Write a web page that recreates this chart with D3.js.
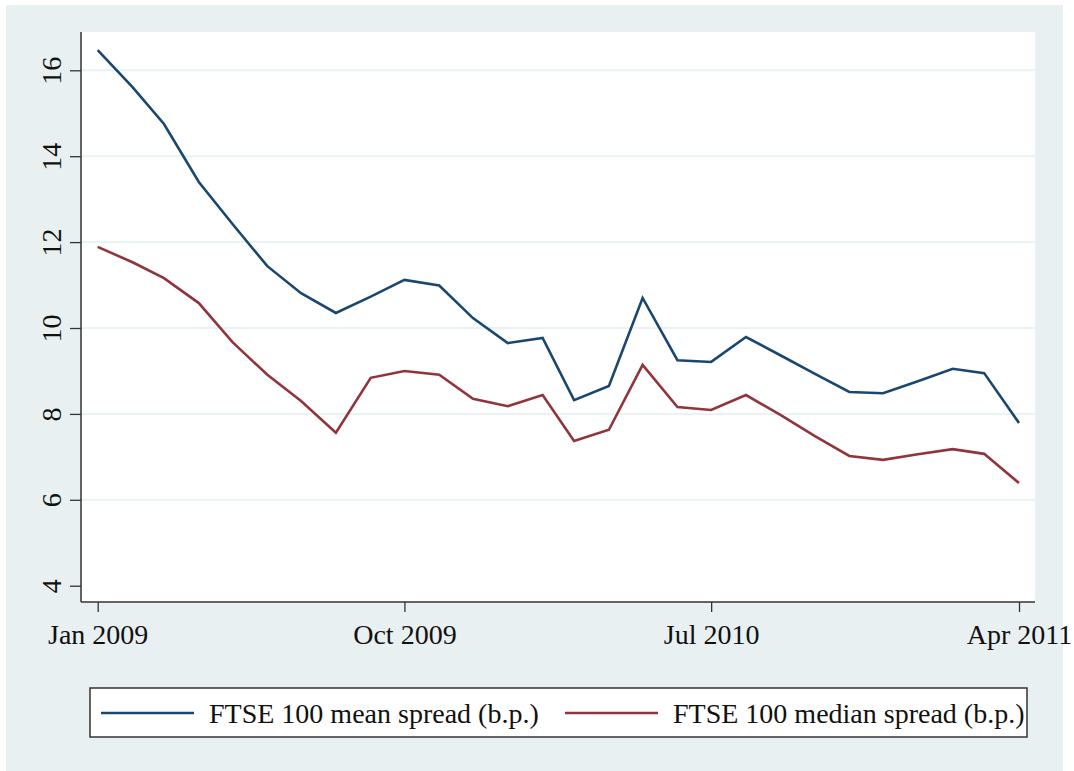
<!DOCTYPE html>
<html>
<head>
<meta charset="utf-8">
<script src="https://cdn.jsdelivr.net/npm/d3@7"></script>
<style>
  html, body { margin: 0; padding: 0; background: #ffffff; }
  svg { display: block; }
  text { font-family: "Liberation Serif", "Times New Roman", serif; fill: #111; }
</style>
</head>
<body>
<svg id="chart" width="1074" height="771"></svg>
<script>
// Monthly observations, Jan 2009 .. Apr 2011
const months = d3.range(0, 28).map(i => new Date(2009, i, 1));
const meanSpread = [16.47, 15.61, 14.75, 13.40, 12.42, 11.44, 10.81, 10.35, 10.73, 11.12,
                    10.99, 10.23, 9.65, 9.77, 8.32, 8.65, 10.70, 9.25, 9.21, 9.79,
                    9.36, 8.94, 8.51, 8.48, 8.76, 9.05, 8.95, 7.79];
const medianSpread = [11.89, 11.53, 11.16, 10.58, 9.67, 8.91, 8.30, 7.56, 8.84, 9.00,
                      8.91, 8.35, 8.18, 8.44, 7.37, 7.63, 9.14, 8.16, 8.09, 8.44,
                      7.97, 7.49, 7.02, 6.93, 7.06, 7.18, 7.07, 6.39];
const yTicks = [4, 6, 8, 10, 12, 14, 16];
const xTicks = [new Date(2009, 0, 1), new Date(2009, 9, 1), new Date(2010, 6, 1), new Date(2011, 3, 1)];
const seriesNames = ["FTSE 100 mean spread (b.p.)", "FTSE 100 median spread (b.p.)"];
const seriesColors = ["#1a476f", "#90353b"];

const svg = d3.select("#chart");
const fmt = d3.timeFormat("%b %Y");

// background
svg.append("rect").attr("x", 6).attr("y", 5).attr("width", 1057).attr("height", 766).attr("fill", "#e9f0f2");

const plot = {left: 81, right: 1035, top: 32, bottom: 602};
svg.append("rect").attr("x", plot.left).attr("y", plot.top)
  .attr("width", plot.right - plot.left).attr("height", plot.bottom - plot.top).attr("fill", "#ffffff");

const x = d3.scaleTime().domain([months[0], months[27]]).range([97.7, 1019]);
const y = d3.scaleLinear().domain([4, 16]).range([585.7, 70.3]);

// grid
svg.append("g").selectAll("line").data(yTicks.filter(d => d > 4)).join("line")
  .attr("x1", plot.left).attr("x2", plot.right)
  .attr("y1", d => y(d)).attr("y2", d => y(d))
  .attr("stroke", "#eaf2f3").attr("stroke-width", 2);

// y axis
const yAxis = svg.append("g").attr("transform", `translate(${plot.left},0)`)
  .call(d3.axisLeft(y).tickValues(yTicks).tickSize(11).tickFormat(d3.format("d")));
yAxis.select(".domain").remove();
yAxis.selectAll(".tick line").attr("stroke", "#333").attr("stroke-width", 1.3);
yAxis.selectAll(".tick text").remove();
yAxis.selectAll(".tick").append("text")
  .attr("transform", "translate(-20,0) rotate(-90)")
  .attr("text-anchor", "middle")
  .attr("y", 0)
  .style("font-size", "28px")
  .style("font-family", "'Liberation Serif', serif")
  .attr("fill", "#111")
  .text(d => d);
svg.append("line").attr("x1", plot.left).attr("x2", plot.left)
  .attr("y1", plot.top).attr("y2", plot.bottom).attr("stroke", "#333").attr("stroke-width", 1.5);

// x axis
const xAxis = svg.append("g").attr("transform", `translate(0,${plot.bottom})`)
  .call(d3.axisBottom(x).tickValues(xTicks).tickSize(10).tickPadding(12).tickFormat(fmt));
xAxis.select(".domain").remove();
xAxis.selectAll(".tick line").attr("stroke", "#333").attr("stroke-width", 1.3);
xAxis.selectAll(".tick text")
  .style("font-size", "28px").style("font-family", "'Liberation Serif', serif").attr("fill", "#111");
svg.append("line").attr("x1", plot.left).attr("x2", plot.right)
  .attr("y1", plot.bottom).attr("y2", plot.bottom).attr("stroke", "#333").attr("stroke-width", 1.5);

// lines
const line = d3.line().x((d, i) => x(months[i])).y(d => y(d));
[meanSpread, medianSpread].forEach((s, k) => {
  svg.append("path").datum(s).attr("d", line)
    .attr("fill", "none").attr("stroke", seriesColors[k]).attr("stroke-width", 2.6)
    .attr("stroke-linejoin", "miter");
});

// legend
const lg = svg.append("g");
lg.append("rect").attr("x", 90).attr("y", 688).attr("width", 937).attr("height", 49)
  .attr("fill", "#ffffff").attr("stroke", "#333").attr("stroke-width", 1.5);
const lx = [101, 565];
seriesNames.forEach((n, k) => {
  lg.append("line").attr("x1", lx[k]).attr("x2", lx[k] + 93).attr("y1", 713).attr("y2", 713)
    .attr("stroke", seriesColors[k]).attr("stroke-width", 2.6);
  lg.append("text").attr("x", lx[k] + 108).attr("y", 723)
    .style("font-size", "28px").text(n);
});
</script>
</body>
</html>
